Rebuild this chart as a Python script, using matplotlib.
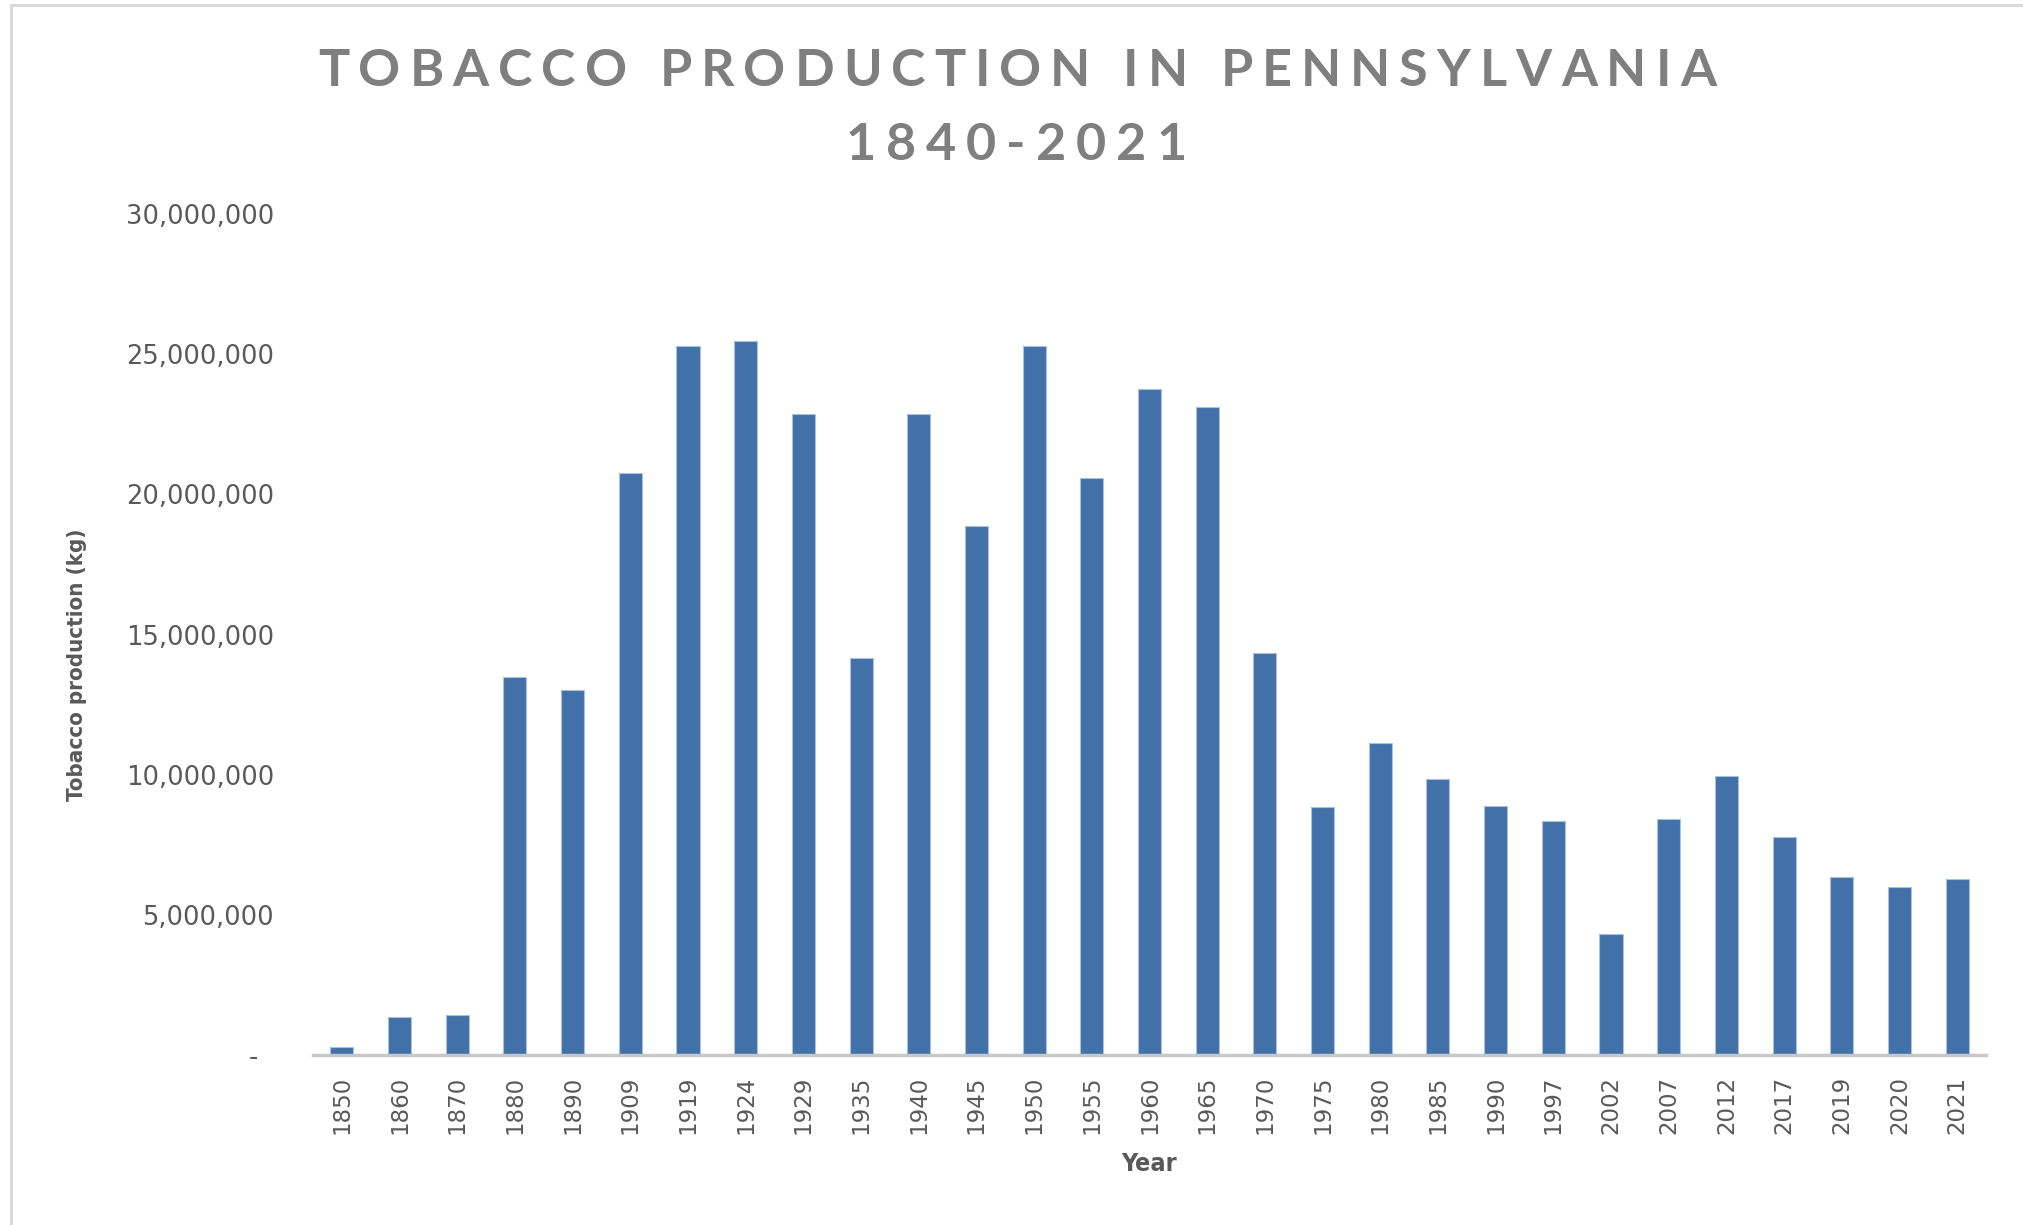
import matplotlib.pyplot as plt
from matplotlib.patches import Rectangle
from matplotlib.ticker import FuncFormatter

# Dados
anos = ['1850', '1860', '1870', '1880', '1890', '1909', '1919', '1924', '1929', '1935',
        '1940', '1945', '1950', '1955', '1960', '1965', '1970', '1975', '1980', '1985',
        '1990', '1997', '2002', '2007', '2012', '2017', '2019', '2020', '2021']
producao_kg = [280000, 1340000, 1430000, 13480000, 13020000, 20770000, 25290000, 25480000,
               22850000, 14170000, 22850000, 18880000, 25290000, 20580000, 23770000,
               23120000, 14350000, 8860000, 11120000, 9830000, 8880000, 8350000, 4310000,
               8420000, 9960000, 7790000, 6360000, 6000000, 6270000]
y_ticks = [0, 5000000, 10000000, 15000000, 20000000, 25000000, 30000000]

W, H = 2023, 1225
cinza_texto = '#595959'
cinza_titulo = '#7f7f7f'

plt.rcParams['hatch.linewidth'] = 0.6

fig = plt.figure(figsize=(W / 100, H / 100), dpi=100)
ax = fig.add_axes([313 / W, 1 - 1055 / H, (1986 - 313) / W, (1055 - 214) / H])

x = list(range(len(anos)))
# preenchimento listrado (linhas escuras sobre azul claro)
ax.bar(x, producao_kg, width=0.4, color='#8cb0da', edgecolor='#4270a8',
       linewidth=0, hatch='-' * 20, zorder=2)
# contorno claro
ax.bar(x, producao_kg, width=0.4, facecolor='none', edgecolor='#a7c1e0',
       linewidth=0.8, zorder=3)

ax.set_xlim(-0.5, len(anos) - 0.5)
ax.set_ylim(0, 30000000)
ax.set_yticks(y_ticks)
ax.yaxis.set_major_formatter(FuncFormatter(lambda v, p: '-  ' if v == 0 else f'{int(v):,}'))
ax.set_xticks(x)
ax.set_xticklabels(anos, rotation=90)

for s in ['top', 'right', 'left']:
    ax.spines[s].set_visible(False)
ax.spines['bottom'].set_color('#c8c8c8')
ax.spines['bottom'].set_linewidth(2.5)
ax.tick_params(axis='both', length=0, labelcolor=cinza_texto)
ax.tick_params(axis='x', labelsize=16.5, pad=15)
ax.tick_params(axis='y', labelsize=18.5, pad=28)

# Rótulos dos eixos
fig.text(77 / W, 1 - 665 / H, 'Tobacco production (kg)', rotation=90, ha='center', va='center',
         fontsize=16, fontweight='bold', fontstretch='condensed', color=cinza_texto, family='DejaVu Sans')
fig.text(1149 / W, 1 - 1164 / H, 'Year', ha='center', va='center',
         fontsize=18, fontweight='bold', fontstretch='condensed', color=cinza_texto, family='DejaVu Sans')


# Título com espaçamento entre letras
def texto_espacado(s, xc, y_base, size, track):
    r = fig.canvas.get_renderer()
    larguras = []
    for ch in s:
        t = fig.text(0, 0, 'n' if ch == ' ' else ch, fontsize=size, fontweight='bold', family='Lato')
        w = t.get_window_extent(r).width
        if ch == ' ':
            w *= 0.5
        larguras.append(w)
        t.remove()
    total = sum(larguras) + track * (len(s) - 1)
    xp = xc - total / 2
    for ch, w in zip(s, larguras):
        if ch != ' ':
            fig.text(xp / W, 1 - y_base / H, ch, fontsize=size, fontweight='bold', family='Lato',
                     color=cinza_titulo, ha='left', va='baseline')
        xp += w + track


texto_espacado('TOBACCO PRODUCTION IN PENNSYLVANIA', 1017, 86, 37.5, 9)
texto_espacado('1840-2021', 1016, 160, 37.5, 10)

# Borda do gráfico
fig.patches.append(Rectangle((11 / W, -0.05), 1.1, 1.05 - 4.5 / H, transform=fig.transFigure,
                             fill=False, edgecolor='#d9d9d9', linewidth=2.2))

plt.savefig('out.png', dpi=100)
